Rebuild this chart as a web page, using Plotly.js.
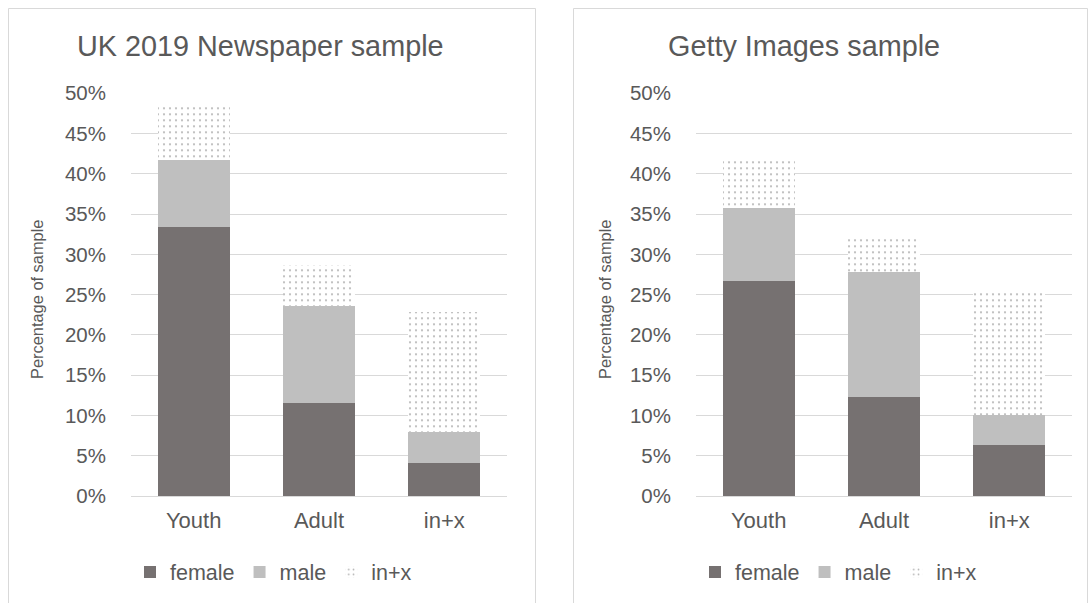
<!DOCTYPE html>
<html>
<head>
<meta charset="utf-8">
<script src="https://cdn.plot.ly/plotly-3.0.1.min.js"></script>
<style>html,body{margin:0;padding:0;background:#fff;}#chart{width:1088px;height:603px;}</style>
</head>
<body>
<div id="chart"></div>
<script>
// Categories
const categories = ["Youth", "Adult", "in+x"];
// UK 2019 Newspaper sample (percent of sample, stacked segments)
const ukFemale = [33.4, 11.5, 4.1];
const ukMale = [8.3, 12.1, 3.8];
const ukInx = [6.8, 5.1, 14.9];
// Getty Images sample
const gettyFemale = [26.7, 12.3, 6.3];
const gettyMale = [9.1, 15.5, 3.7];
const gettyInx = [6.2, 4.5, 15.4];
const seriesNames = ["female", "male", "in+x"];
const yTicks = [0, 5, 10, 15, 20, 25, 30, 35, 40, 45, 50];

const FEMALE = "#767171", MALE = "#bfbfbf", TEXT = "#595959", GRID = "#d9d9d9";
const FONT = "Liberation Sans, Arial, sans-serif";
const W = 1088, H = 603;

function makeTraces(f, m, x, xa, ya, leg) {
  return [
    {type: "bar", name: seriesNames[0], x: categories, y: f, xaxis: xa, yaxis: ya, legend: leg,
     marker: {color: FEMALE}, hoverinfo: "skip"},
    {type: "bar", name: seriesNames[1], x: categories, y: m, xaxis: xa, yaxis: ya, legend: leg,
     marker: {color: MALE}, hoverinfo: "skip"},
    {type: "bar", name: seriesNames[2], x: categories, y: x, xaxis: xa, yaxis: ya, legend: leg,
     marker: {color: "#ffffff", pattern: {shape: ".", fgcolor: "#b4b4b4", bgcolor: "#ffffff", size: 6, solidity: 0.1}},
     hoverinfo: "skip"}
  ];
}

const data = [
  ...makeTraces(ukFemale, ukMale, ukInx, "x", "y", "legend"),
  ...makeTraces(gettyFemale, gettyMale, gettyInx, "x2", "y2", "legend2")
];

function yaxis(anchor) {
  return {
    anchor: anchor, domain: [1 - 496 / H, 1 - 93.3 / H], range: [0, 50],
    tickvals: yTicks, ticktext: yTicks.map(v => v + "%"),
    showgrid: true, gridcolor: GRID, gridwidth: 1, zeroline: false, showline: false,
    ticks: "", ticklabelstandoff: 24,
    tickfont: {family: FONT, size: 20.5, color: TEXT}, fixedrange: true
  };
}
function xaxis(anchor, d0, d1) {
  return {
    anchor: anchor, domain: [d0 / W, d1 / W], type: "category",
    showgrid: false, zeroline: false, showline: true, linecolor: GRID, linewidth: 1,
    ticks: "", ticklabelstandoff: 5,
    tickfont: {family: FONT, size: 22, color: TEXT}, fixedrange: true
  };
}

const legendBase = {
  orientation: "h", yanchor: "middle", xanchor: "left", y: 1 - 572 / H,
  font: {family: FONT, size: 21.5, color: TEXT}, bgcolor: "rgba(0,0,0,0)",
  traceorder: "normal", itemwidth: 30, itemclick: false, itemdoubleclick: false
};

const layout = {
  width: W, height: H, margin: {l: 0, r: 0, t: 0, b: 0},
  paper_bgcolor: "#ffffff", plot_bgcolor: "#ffffff",
  barmode: "stack", bargap: 0.425,
  font: {family: FONT, color: TEXT},
  xaxis: xaxis("y", 131, 507),
  yaxis: yaxis("x"),
  xaxis2: xaxis("y2", 696, 1072),
  yaxis2: yaxis("x2"),
  legend: Object.assign({}, legendBase, {x: 130 / W}),
  legend2: Object.assign({}, legendBase, {x: 695 / W}),
  annotations: [
    {text: "UK 2019 Newspaper sample", xref: "paper", yref: "paper", x: 260 / W, y: 1 - 46 / H,
     xanchor: "center", yanchor: "middle", showarrow: false, font: {family: FONT, size: 28.8, color: TEXT}},
    {text: "Getty Images sample", xref: "paper", yref: "paper", x: 804 / W, y: 1 - 46 / H,
     xanchor: "center", yanchor: "middle", showarrow: false, font: {family: FONT, size: 28.8, color: TEXT}},
    {text: "Percentage of sample", xref: "paper", yref: "paper", x: 37 / W, y: 1 - 300 / H,
     xanchor: "center", yanchor: "middle", textangle: -90, showarrow: false, font: {family: FONT, size: 16.4, color: TEXT}},
    {text: "Percentage of sample", xref: "paper", yref: "paper", x: 605 / W, y: 1 - 300 / H,
     xanchor: "center", yanchor: "middle", textangle: -90, showarrow: false, font: {family: FONT, size: 16.4, color: TEXT}}
  ],
  shapes: [
    {type: "rect", xref: "paper", yref: "paper", x0: 8.5 / W, x1: 535.5 / W, y0: -0.02, y1: 1 - 8.5 / H,
     line: {color: GRID, width: 1}, fillcolor: "rgba(0,0,0,0)", layer: "below"},
    {type: "rect", xref: "paper", yref: "paper", x0: 573.5 / W, x1: 1087.5 / W, y0: -0.02, y1: 1 - 8.5 / H,
     line: {color: GRID, width: 1}, fillcolor: "rgba(0,0,0,0)", layer: "below"}
  ]
};

Plotly.newPlot("chart", data, layout, {staticPlot: true, displayModeBar: false});
</script>
</body>
</html>
